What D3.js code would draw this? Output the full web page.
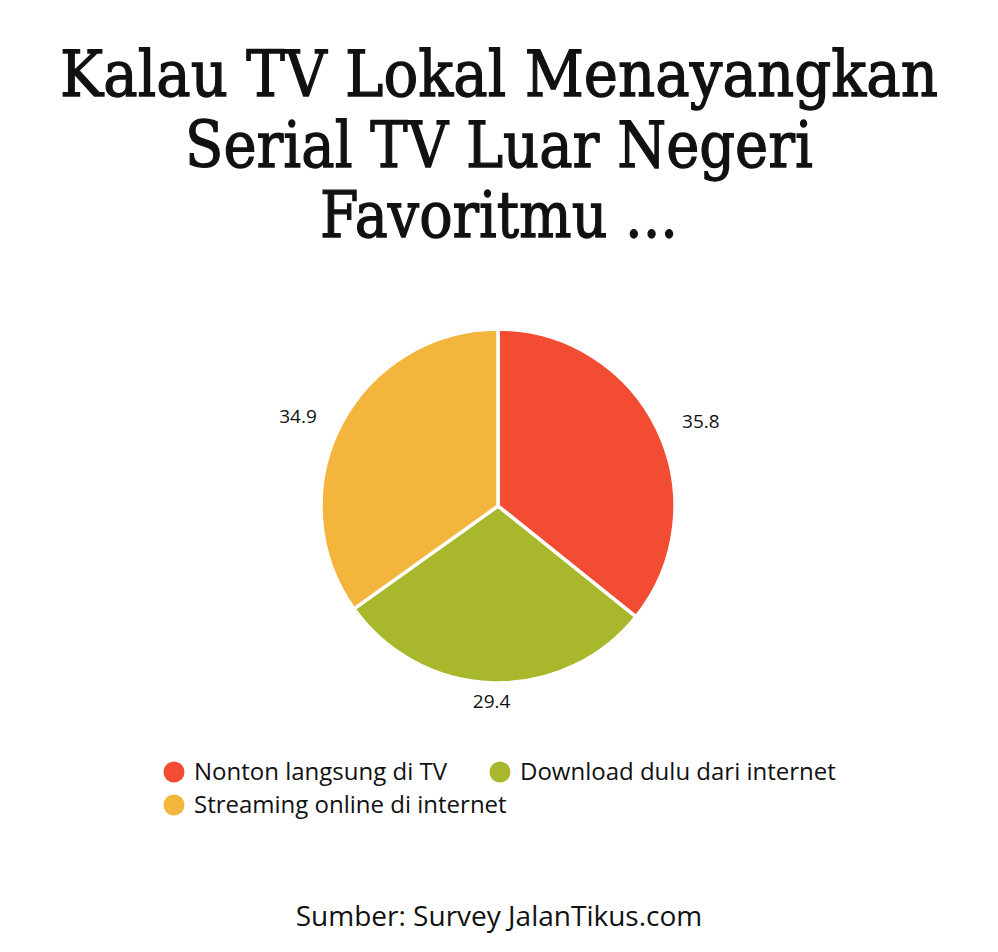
<!DOCTYPE html>
<html>
<head>
<meta charset="utf-8">
<script src="https://cdn.jsdelivr.net/npm/d3@7"></script>
<style>
  body { margin: 0; background: #fff; }
  svg { display: block; }
</style>
</head>
<body>
<div id="chart"></div>
<script>
// --- chart data
const titleLines = ['Kalau TV Lokal Menayangkan', 'Serial TV Luar Negeri', 'Favoritmu ...'];
const categories = ['Nonton langsung di TV', 'Download dulu dari internet', 'Streaming online di internet'];
const values = [35.8, 29.4, 34.9];
const colors = ['#f24c33', '#a9b72d', '#f3b53b'];
const source = 'Sumber: Survey JalanTikus.com';

const width = 998;
const height = 952;

const svg = d3.select('#chart').append('svg')
  .attr('width', width)
  .attr('height', height);

// title, three lines in a slab serif, squeezed to the original widths
const title = svg.append('g').attr('class', 'title');
const titleWidths = [878, 628, 358];
titleLines.forEach(function(line, i) {
  const row = title.append('g');
  const t = row.append('text')
    .attr('x', 0)
    .attr('y', 0)
    .attr('text-anchor', 'middle')
    .style('font-family', '"DejaVu Serif", serif')
    .style('font-size', '63px')
    .style('fill', '#111')
    .style('stroke', '#111')
    .style('stroke-width', 1.3)
    .text(line);
  const len = t.node().getComputedTextLength();
  const sx = Math.min(1, titleWidths[i] / len);
  row.attr('transform', 'translate(' + (width / 2) + ',' + (96 + i * 70.5) + ') scale(' + sx + ',1)');
});

// --- pie
const cx = 498, cy = 506, r = 177;
const pie = d3.pie().sort(null).value(d => d)(values);
const arc = d3.arc().innerRadius(0).outerRadius(r);

// labels sit on an ellipse round the pie
const labelRx = 225, labelRy = 195;
function labelPos(d) {
  const a = (d.startAngle + d.endAngle) / 2;
  return [Math.sin(a) * labelRx, -Math.cos(a) * labelRy];
}

const g = svg.append('g').attr('transform', 'translate(' + cx + ',' + cy + ')');

g.selectAll('.slice').data(pie)
  .enter().append('path')
  .attr('class', 'slice')
  .attr('d', arc)
  .style('fill', (d, i) => colors[i])
  .style('stroke', '#fff')
  .style('stroke-width', 3.5)
  .style('stroke-linejoin', 'round');

g.selectAll('.label').data(pie)
  .enter().append('text')
  .attr('class', 'label')
  .attr('transform', d => 'translate(' + labelPos(d) + ')')
  .attr('text-anchor', 'middle')
  .attr('dy', '0.35em')
  .style('font-family', '"Open Sans", sans-serif')
  .style('font-size', '19px')
  .style('fill', '#111')
  .text(d => d.data);

// --- legend
const legendPos = [[174, 772], [500, 772], [174, 805]];
const legend = svg.append('g').attr('class', 'legend');
const items = legend.selectAll('.item').data(categories)
  .enter().append('g')
  .attr('class', 'item')
  .attr('transform', (d, i) => 'translate(' + legendPos[i] + ')');

items.append('circle')
  .attr('r', 10.5)
  .style('fill', (d, i) => colors[i]);

items.append('text')
  .attr('x', 20)
  .attr('dy', '0.35em')
  .style('font-family', '"Open Sans", sans-serif')
  .style('font-size', '24px')
  .style('fill', '#111')
  .text(d => d);

// --- source line
svg.append('text')
  .attr('x', width / 2)
  .attr('y', 926)
  .attr('text-anchor', 'middle')
  .style('font-family', '"Open Sans", sans-serif')
  .style('font-size', '28px')
  .style('fill', '#111')
  .text(source);
</script>
</body>
</html>
